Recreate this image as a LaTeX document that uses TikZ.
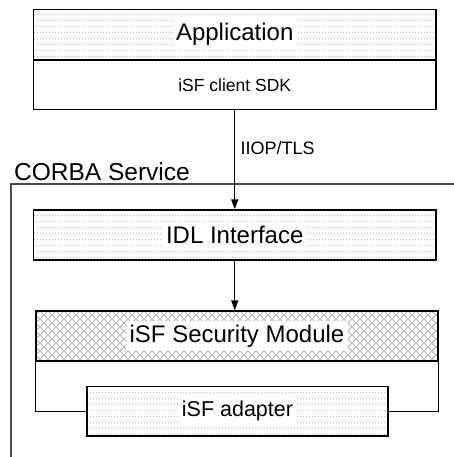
\documentclass[tikz,border=0pt]{standalone}
\usepackage{fontspec}
\setmainfont{Liberation Sans}
\usetikzlibrary{arrows.meta}
\tikzset{
  box/.style={draw=black, line width=1.2pt, rectangle, inner sep=0pt},
  conn/.style={draw=black, line width=1.2pt},
  arr/.style={conn, -{Triangle[width=7pt,length=10pt]}},
  frame/.style={draw=black!70, line width=1.5pt},
  lbl/.style={fill=white, inner sep=3.5pt},
  big/.style={font=\fontsize{24}{28}\selectfont},
  dotrows/.style={path picture={
    \foreach \k in {0,...,7}{
      \draw[black!28, line width=1pt, dash pattern=on 1.2pt off 1.8pt]
        ([yshift=-5.5pt-\k*6pt]path picture bounding box.north west) --
        ([yshift=-5.5pt-\k*6pt]path picture bounding box.north east);
    }}},
  hatch/.style={path picture={
    \foreach \k in {0,...,70}{
      \draw[black!30, line width=1pt]
        ([xshift=\k*8pt-60pt]path picture bounding box.north west) -- ++(60pt,-60pt)
        ([xshift=\k*8pt-60pt]path picture bounding box.north west) -- ++(-60pt,-60pt);
    }}},
}
\begin{document}
\begin{tikzpicture}[x=1pt,y=-1pt]
\useasboundingbox (0,0) rectangle (454,457);
\fill[white] (0,0) rectangle (454,457);

% CORBA Service frame
\coordinate (fb) at (11,458);
\coordinate (fc) at (11,184);
\coordinate (fr) at (455,184);
\draw[frame] (fb) -- (fc) -- (fr);
\node[anchor=base west, inner sep=0pt, font=\fontsize{24.5}{28}\selectfont] (corba) at (14,180) {CORBA Service};

% Application
\node[box, dotrows, minimum width=402.5pt, minimum height=50.5pt] (apptop) at (234.75,34.75) {};
\node[box, minimum width=402.5pt, minimum height=49pt] (appbot) at (234.75,84.75) {};
\node[lbl, big] (applbl) at (apptop.center) {Application};
\node[font=\fontsize{17.5}{20}\selectfont] (sdk) at (appbot.center) {iSF client SDK};

% IDL Interface
\node[box, dotrows, minimum width=402.5pt, minimum height=50pt] (idl) at (234.75,235) {};
\node[lbl, big] (idllbl) at (idl.center) {IDL Interface};

% Security module
\node[box, hatch, minimum width=402pt, minimum height=50pt] (sec) at (237,336) {};
\node[lbl, big] (seclbl) at (sec.center) {iSF Security Module};

% Adapter
\node[box, dotrows, minimum width=301pt, minimum height=49.5pt] (adapter) at (237.5,411.25) {};
\node[lbl, font=\fontsize{21.5}{24}\selectfont] (adlbl) at (adapter.center) {iSF adapter};

\draw[conn] (sec.south west) -- (sec.south west |- adapter.west) -- (adapter.west);
\draw[conn] (sec.south east) -- (sec.south east |- adapter.east) -- (adapter.east);

% Arrows
\draw[arr] (appbot.south) -- (idl.north);
\node[anchor=base west, inner sep=0pt, font=\fontsize{18}{20}\selectfont] (iiop) at (240.5,154) {IIOP/TLS};
\draw[arr] (idl.south) -- (idl.south |- sec.north);
\end{tikzpicture}
\end{document}
